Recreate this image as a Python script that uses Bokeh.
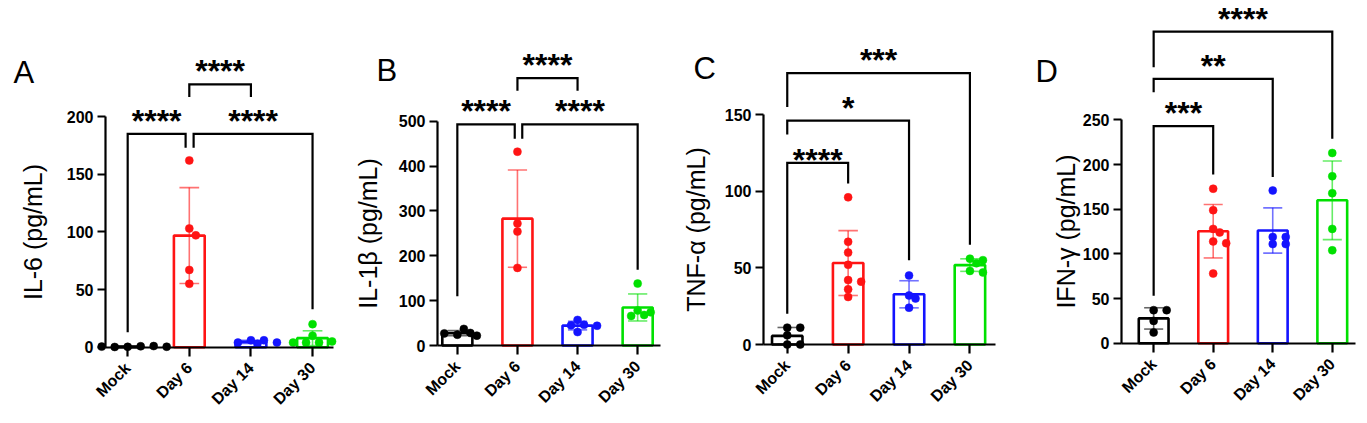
import math
import numpy as np
from bokeh.plotting import figure
from bokeh.layouts import row
from bokeh.models import FixedTicker, Label, ColumnDataSource
from bokeh.embed import file_html
from bokeh.resources import INLINE
from bokeh.core.properties import value

# ---------------- data ----------------
groups = ["Mock", "Day 6", "Day 14", "Day 30"]
group_colors = ["#000000", "#FF1414", "#1414FF", "#00E000"]

il6_mock = [0.3, 0.8, 0.2, 1.0, 0.5, 0.4]
il6_day6 = [162, 103, 97, 67, 55]
il6_day14 = [6, 6, 4, 4, 3]
il6_day30 = [20, 10, 4, 4, 5, 4]
il6_ticks = [0, 50, 100, 150, 200]

il1b_mock = [24, 28, 27, 37, 22]
il1b_day6 = [432, 272, 254, 173]
il1b_day14 = [57, 46, 45, 44, 30]
il1b_day30 = [138, 78, 74, 68, 66]
il1b_ticks = [0, 100, 200, 300, 400, 500]

tnf_mock = [11, 11, 6, 0, 0]
tnf_day6 = [96, 67, 60, 52, 42, 41, 36, 31]
tnf_day14 = [45, 32, 30, 24]
tnf_day30 = [56, 55, 53, 48, 47]
tnf_ticks = [0, 50, 100, 150]

ifng_mock = [37, 37, 25, 12]
ifng_day6 = [173, 149, 128, 124, 114, 112, 78]
ifng_day14 = [171, 119, 119, 111, 111]
ifng_day30 = [213, 187, 168, 128, 104]
ifng_ticks = [0, 50, 100, 150, 200, 250]

# significance brackets: (x left, x right, top, left leg end, right leg end, label)
il6_brackets = [(0, 0.94, 185, 13, 173, "****"),
                (1, 2, 228, 217, 217, "****"),
                (1.07, 3, 185, 173, 33, "****")]
il1b_brackets = [(0, 0.955, 493, 110, 461, "****"),
                 (1, 2, 596, 568, 568, "****"),
                 (1.08, 3, 493, 461, 169, "****")]
tnf_brackets = [(0, 1, 118.5, 20, 105, "****"),
                (0, 2, 146, 137, 55, "*"),
                (0, 3, 177, 155, 65, "***")]
ifng_brackets = [(0, 1, 243, 53, 189, "***"),
                 (0, 2, 296, 281, 186, "**"),
                 (0, 3, 349, 309, 229, "****")]

# ---------------- layout ----------------
# page x boundaries of the four figures
fig_edges = [0, 343, 670, 1005, 1362]
FIG_H = 416

panels = [
    dict(letter="A", ylabel="IL-6 (pg/mL)", data=[il6_mock, il6_day6, il6_day14, il6_day30],
         ticks=il6_ticks, brackets=il6_brackets, star_dy=[-13, -13, -13],
         xr=(-0.36, 3.34), fw=228, axis_px=105, zero_px=346.7, px_y=1.153, lab_so=17,
         letter_pos=(13, 72)),
    dict(letter="B", ylabel="IL-1β (pg/mL)", data=[il1b_mock, il1b_day6, il1b_day14, il1b_day30],
         ticks=il1b_ticks, brackets=il1b_brackets, star_dy=[-13, -13, -13],
         xr=(-0.33, 3.38), fw=223, axis_px=437, zero_px=345, px_y=0.4486, lab_so=14,
         letter_pos=(376, 70)),
    dict(letter="C", ylabel="TNF-α (pg/mL)", data=[tnf_mock, tnf_day6, tnf_day14, tnf_day30],
         ticks=tnf_ticks, brackets=tnf_brackets, star_dy=[-3, -13, -13],
         xr=(-0.39, 3.42), fw=232, axis_px=763, zero_px=344, px_y=1.533, lab_so=12,
         letter_pos=(693, 68)),
    dict(letter="D", ylabel="IFN-γ (pg/mL)", data=[ifng_mock, ifng_day6, ifng_day14, ifng_day30],
         ticks=ifng_ticks, brackets=ifng_brackets, star_dy=[-13, -13, -13],
         xr=(-0.54, 3.39), fw=234, axis_px=1121, zero_px=342.7, px_y=0.893, lab_so=0,
         letter_pos=(1035, 71)),
]

FONT = "Liberation Sans"


def swarm_offsets(vals, px_x, px_y, step=6.5, min_d=7.0):
    placed, offs = [], []
    cands = [0.0]
    for i in range(1, 12):
        cands += [i * step, -i * step]
    for v in vals:
        chosen = cands[-1]
        for c in cands:
            if all(math.hypot(c - pc, (v - pv) * px_y) >= min_d for pc, pv in placed):
                chosen = c
                break
        placed.append((chosen, v))
        offs.append(chosen / px_x)
    return offs


def make_panel(cfg, fig_left, fig_right):
    ax0, ax1 = cfg["xr"]
    px_x = cfg["fw"] / (ax1 - ax0)
    px_y = cfg["px_y"]
    width = fig_right - fig_left
    xs_start = ax0 - (cfg["axis_px"] - fig_left) / px_x
    xs_end = ax0 + (fig_right - cfg["axis_px"]) / px_x
    ys_end = cfg["zero_px"] / px_y
    ys_start = -(FIG_H - cfg["zero_px"]) / px_y

    p = figure(width=width, height=FIG_H, x_range=(xs_start, xs_end), y_range=(ys_start, ys_end),
               output_backend="svg", toolbar_location=None,
               min_border_left=0, min_border_right=0, min_border_top=0, min_border_bottom=0)
    p.grid.visible = False
    p.outline_line_color = None
    p.background_fill_color = "white"
    p.border_fill_color = "white"

    xs = list(range(len(groups)))
    means = [float(np.mean(d)) for d in cfg["data"]]
    sds = [float(np.std(d, ddof=1)) for d in cfg["data"]]

    # bars
    p.vbar(x=xs, top=means, bottom=0, width=0.5, fill_color="white", fill_alpha=0.0,
           line_color=group_colors, line_width=2.6)

    # error bars (mean +/- SD)
    cap = 0.16
    p.segment(x0=xs, y0=[m - s for m, s in zip(means, sds)], x1=xs,
              y1=[m + s for m, s in zip(means, sds)],
              line_color=group_colors, line_width=1.6, line_alpha=0.6)
    for sign in (1, -1):
        ys = [m + sign * s for m, s in zip(means, sds)]
        p.segment(x0=[x - cap for x in xs], y0=ys, x1=[x + cap for x in xs], y1=ys,
                  line_color=group_colors, line_width=1.6, line_alpha=0.6)

    # points
    for i, d in enumerate(cfg["data"]):
        offs = swarm_offsets(d, px_x, px_y)
        p.scatter(x=[i + o for o in offs], y=d, size=8, marker="circle",
                  fill_color=group_colors[i], line_color=group_colors[i], line_width=0.5)

    # brackets
    br = cfg["brackets"]
    bxs = [[b[0], b[0], b[1], b[1]] for b in br]
    bys = [[b[3], b[2], b[2], b[4]] for b in br]
    p.multi_line(xs=bxs, ys=bys, line_color="black", line_width=2.2, line_join="miter")
    src = ColumnDataSource(dict(x=[(b[0] + b[1]) / 2 for b in br], y=[b[2] for b in br],
                                t=[b[5] for b in br], dy=cfg["star_dy"]))
    p.text(x="x", y="y", text="t", y_offset="dy", source=src, text_align="center",
           text_baseline="alphabetic", text_font=value(FONT), text_font_style="bold",
           text_font_size="32px", text_color="black")

    # y axis, drawn at the left end of the category axis
    yax = p.yaxis[0]
    yax.fixed_location = ax0
    yax.ticker = FixedTicker(ticks=cfg["ticks"])
    yax.bounds = (cfg["ticks"][0], cfg["ticks"][-1])
    yax.minor_tick_line_color = None
    yax.major_tick_in = 0
    yax.major_tick_out = 8
    yax.axis_line_width = 2.2
    yax.major_tick_line_width = 2.2
    yax.major_label_text_font = FONT
    yax.major_label_text_font_style = "bold"
    yax.major_label_text_font_size = "16px"
    yax.major_label_text_color = "black"
    yax.major_label_standoff = 4
    yax.axis_label = cfg["ylabel"]
    yax.axis_label_text_font = FONT
    yax.axis_label_text_font_style = "normal"
    yax.axis_label_text_font_size = "25px"
    yax.axis_label_text_color = "black"
    yax.axis_label_standoff = cfg["lab_so"]

    # x axis at value 0
    xax = p.xaxis[0]
    xax.fixed_location = 0
    xax.bounds = (ax0, ax1)
    xax.ticker = FixedTicker(ticks=xs)
    xax.major_label_overrides = {i: g for i, g in enumerate(groups)}
    xax.minor_tick_line_color = None
    xax.major_tick_in = 0
    xax.major_tick_out = 9
    xax.axis_line_width = 2.2
    xax.major_tick_line_width = 2.2
    xax.major_label_orientation = math.pi / 4
    xax.major_label_text_font = FONT
    xax.major_label_text_font_style = "bold"
    xax.major_label_text_font_size = "16px"
    xax.major_label_text_color = "black"
    xax.major_label_standoff = 9

    # panel letter
    lx, ly = cfg["letter_pos"]
    p.add_layout(Label(x=xs_start + (lx - fig_left) / px_x,
                       y=(cfg["zero_px"] - ly) / px_y,
                       text=cfg["letter"],
                       text_font=FONT, text_font_size="31px", text_color="black",
                       text_baseline="alphabetic", text_align="left"))
    return p


figs = [make_panel(cfg, fig_edges[i], fig_edges[i + 1]) for i, cfg in enumerate(panels)]
layout = row(*figs)
open("out.html", "w").write(file_html(layout, INLINE))
